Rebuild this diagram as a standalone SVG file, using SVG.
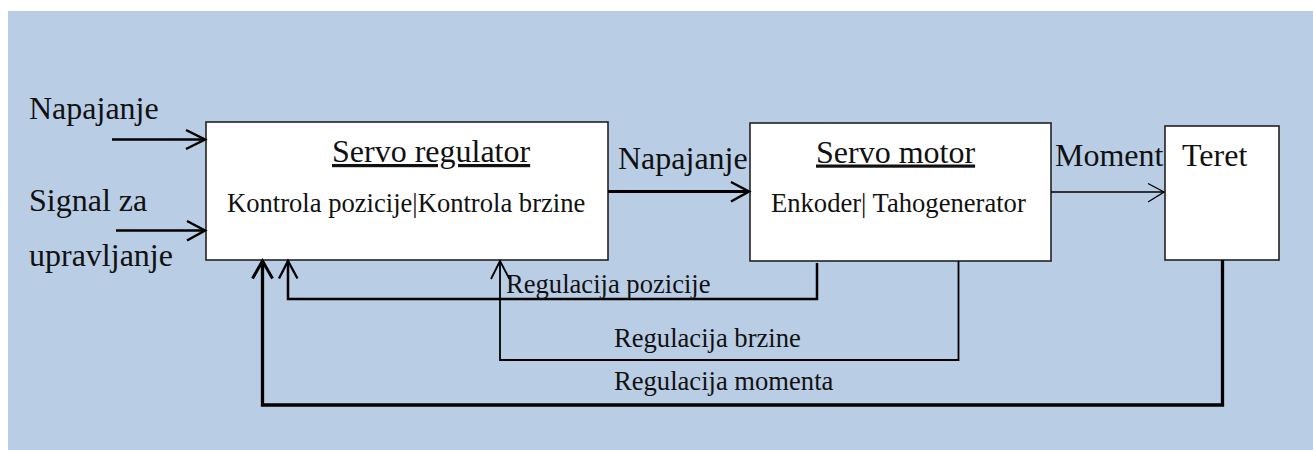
<svg xmlns="http://www.w3.org/2000/svg" width="1313" height="450" viewBox="0 0 1313 450">
  <style>
    text { font-family: "Liberation Serif", "Times New Roman", serif; fill: #111; }
    .big { font-size: 32px; }
    .small { font-size: 26.6px; }
    .box { fill: #ffffff; stroke: #222; stroke-width: 1.6; }
    .ln { fill: none; stroke: #000; stroke-linecap: butt; stroke-linejoin: miter; }
    .head { fill: none; stroke: #000; stroke-linecap: butt; stroke-linejoin: miter; }
  </style>
  <rect x="8" y="11" width="1305" height="439" fill="#B9CDE5"/>

  <g id="labels-inputs">
    <text class="big" x="29" y="119">Napajanje</text>
    <text class="big" x="29" y="211">Signal za</text>
    <text class="big" x="29" y="266">upravljanje</text>
  </g>

  <g id="servo-regulator">
    <rect class="box" x="206" y="122" width="402" height="138"/>
    <text class="big" x="332" y="162" text-decoration="underline">Servo regulator</text>
    <text class="small" x="227" y="212">Kontrola pozicije|Kontrola brzine</text>
  </g>

  <g id="servo-motor">
    <rect class="box" x="750" y="123" width="301" height="138"/>
    <text class="big" x="816" y="162.5" text-decoration="underline">Servo motor</text>
    <text class="small" x="771" y="212">Enkoder| Tahogenerator</text>
  </g>

  <g id="teret">
    <rect class="box" x="1165" y="126" width="114" height="134"/>
    <text class="big" x="1182" y="166">Teret</text>
  </g>

  <g id="connectors">
    <!-- input Napajanje -->
    <line class="ln" x1="112" y1="139.5" x2="205" y2="139.5" stroke-width="2.5"/>
    <polyline class="head" points="186,130 205,139.5 186,149" stroke-width="2.5"/>
    <!-- input Signal -->
    <line class="ln" x1="116" y1="230.5" x2="205" y2="230.5" stroke-width="2.5"/>
    <polyline class="head" points="187,221 205,230.5 187,240.5" stroke-width="2.5"/>
    <!-- regulator to motor -->
    <line class="ln" x1="608" y1="191.5" x2="749" y2="191.5" stroke-width="3"/>
    <polyline class="head" points="731,182 749,191.5 731,201.5" stroke-width="2.5"/>
    <text class="big" x="618" y="169">Napajanje</text>
    <!-- motor to teret -->
    <line class="ln" x1="1051" y1="192" x2="1164" y2="192" stroke-width="1.4"/>
    <polyline class="head" points="1148,183.5 1164,192 1148,202" stroke-width="1.4"/>
    <text class="big" x="1055" y="166">Moment</text>

    <!-- Regulacija pozicije -->
    <polyline class="ln" points="817,263 817,299 288,299 288,261" stroke-width="2.5"/>
    <polyline class="head" points="279,278.5 288,261 297.5,278.5" stroke-width="2.3"/>
    <text class="small" x="506" y="293">Regulacija pozicije</text>

    <!-- Regulacija brzine -->
    <polyline class="ln" points="958.5,261 958.5,360 500,360 500,261" stroke-width="1.8"/>
    <polyline class="head" points="491,279 500,261 509.5,279" stroke-width="1.8"/>
    <text class="small" x="614" y="347">Regulacija brzine</text>

    <!-- Regulacija momenta -->
    <polyline class="ln" points="1222.5,260 1222.5,405 262.5,405 262.5,261" stroke-width="3.3"/>
    <polyline class="head" points="252.5,278.5 262.5,261 272.5,278.5" stroke-width="3"/>
    <text class="small" x="614" y="390">Regulacija momenta</text>
  </g>
</svg>
